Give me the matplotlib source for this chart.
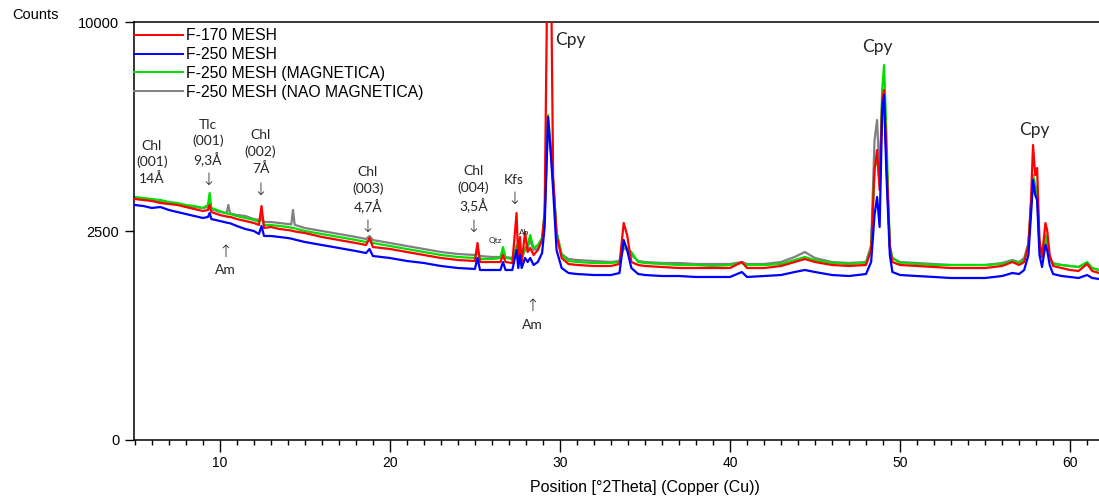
import numpy as np
import matplotlib
matplotlib.use("Agg")
from matplotlib import pyplot as plt

# difratogramas (2theta em graus, contagens)
two_theta = [5.0, 5.5, 6.0, 6.5, 7.0, 7.5, 8.0, 8.5, 9.0, 9.3, 9.4, 9.5, 10.0, 10.4, 10.5, 10.6,
             11.0, 11.5, 12.0, 12.3, 12.45, 12.6, 13.0, 13.5, 14.0, 14.2, 14.3, 14.4, 15.0, 16.0,
             17.0, 18.0, 18.6, 18.8, 19.0, 20.0, 21.0, 22.0, 23.0, 24.0, 25.0, 25.15, 25.3,
             26.0, 26.5, 26.65, 26.8, 27.2, 27.45, 27.55, 27.65, 27.75, 27.95, 28.1, 28.25,
             28.45, 28.7, 28.95, 29.1, 29.3, 29.45, 29.6, 29.8, 30.1, 30.5, 31.0, 32.0, 33.0,
             33.5, 33.75, 33.95, 34.2, 34.6, 35.0, 36.0, 37.0, 38.0, 39.0, 40.0, 40.7, 41.0,
             42.0, 43.0, 43.8, 44.4, 45.0, 46.0, 47.0, 48.0, 48.3, 48.5, 48.65, 48.8, 48.95,
             49.06, 49.2, 49.3, 49.4, 49.55, 50.0, 51.0, 52.0, 53.0, 54.0, 55.0, 56.0, 56.6,
             57.0, 57.3, 57.55, 57.7, 57.82, 57.95, 58.06, 58.2, 58.35, 58.55, 58.65, 58.8,
             59.0, 59.5, 60.0, 60.5, 61.0, 61.3, 61.7]

f170 = [3324, 3297, 3269, 3215, 3188, 3161, 3107, 3054, 3001, 3028, 3161, 2975, 2897, 2860, 2846, 2850,
        2795, 2745, 2695, 2646, 3134, 2572, 2597, 2548, 2524, 2510, 2500, 2490, 2452, 2359,
        2289, 2221, 2176, 2335, 2132, 2088, 2023, 1959, 1896, 1854, 1834, 2221, 1813,
        1813, 1813, 1959, 1813, 1793, 2949, 1813, 2359, 1813, 2476, 2023, 2110,
        1959, 2066, 2289, 2949, 16000, 15000, 3959, 2405, 1896, 1773, 1753, 1733, 1733,
        1773, 2695, 2405, 1813, 1753, 1733, 1713, 1693, 1693, 1693, 1693, 1813, 1693,
        1693, 1733, 1813, 1875, 1813, 1753, 1733, 1753, 2066, 4172, 4813, 3577, 6616,
        7011, 4584, 3161, 2132, 1813, 1753, 1733, 1713, 1693, 1693, 1693, 1733, 1813,
        1753, 1813, 2176, 3297, 4981, 4019, 4234, 2289, 1917, 2695, 2524, 1959,
        1733, 1693, 1654, 1635, 1773, 1635, 1596]

f250 = [3161, 3134, 3081, 3107, 3028, 2975, 2923, 2872, 2821, 2846, 2949, 2795, 2745, 2705, 2695, 2690,
        2621, 2548, 2500, 2429, 2621, 2382, 2382, 2359, 2335, 2320, 2312, 2300, 2244, 2176,
        2110, 2044, 2001, 2088, 1938, 1896, 1834, 1793, 1733, 1693, 1674, 1896, 1654,
        1654, 1654, 1813, 1654, 1654, 2066, 1693, 1959, 1693, 1896, 1813, 1896,
        1753, 1813, 2001, 2597, 5971, 4813, 3577, 2066, 1693, 1596, 1577, 1558, 1558,
        1596, 2289, 2066, 1693, 1577, 1558, 1539, 1539, 1521, 1521, 1521, 1615, 1521,
        1539, 1558, 1615, 1654, 1615, 1558, 1539, 1577, 1813, 2897, 3380, 2597, 6233,
        6812, 4019, 2897, 1959, 1615, 1558, 1539, 1521, 1502, 1502, 1502, 1539, 1596,
        1577, 1654, 1959, 2897, 3869, 3435, 3297, 1959, 1713, 2176, 2066, 1753,
        1577, 1539, 1521, 1502, 1558, 1502, 1484]

f250_mag = [3380, 3352, 3324, 3297, 3242, 3215, 3161, 3134, 3081, 3161, 3492, 3081, 3001, 2935, 2923, 2920,
            2872, 2821, 2770, 2720, 2821, 2646, 2646, 2621, 2597, 2580, 2572, 2565, 2500, 2429,
            2359, 2289, 2244, 2289, 2221, 2154, 2088, 2023, 1959, 1917, 1896, 2066, 1875,
            1875, 1896, 2132, 1896, 1875, 2176, 1896, 2066, 1896, 2110, 2176, 2405,
            2110, 2176, 2335, 2949, 6045, 4981, 3869, 2476, 1959, 1834, 1813, 1793, 1793,
            1813, 2176, 2110, 2023, 1813, 1793, 1773, 1753, 1753, 1733, 1753, 1793, 1753,
            1753, 1773, 1854, 1917, 1854, 1793, 1773, 1793, 2110, 4172, 4649, 3722, 7011,
            8048, 5394, 3435, 2176, 1896, 1793, 1773, 1753, 1753, 1753, 1753, 1773, 1834,
            1793, 1854, 2176, 3161, 4019, 3722, 3577, 2176, 1917, 2405, 2289, 1896,
            1773, 1753, 1733, 1713, 1813, 1693, 1654]

f250_nao_mag = [3352, 3324, 3297, 3242, 3215, 3188, 3134, 3107, 3081, 3107, 3297, 3054, 2975, 2950, 3161, 2940,
                2897, 2872, 2795, 2770, 2846, 2720, 2720, 2695, 2670, 2660, 3028, 2650, 2572, 2500,
                2429, 2359, 2312, 2382, 2289, 2221, 2154, 2088, 2023, 1980, 1959, 2023, 1938,
                1917, 1917, 2066, 1917, 1896, 2110, 1896, 2023, 1896, 2066, 2110, 2289,
                2066, 2110, 2289, 2897, 5679, 4813, 3810, 2476, 1980, 1875, 1854, 1834, 1813,
                1834, 2110, 2066, 1959, 1834, 1813, 1793, 1793, 1773, 1773, 1773, 1813, 1773,
                1773, 1813, 1917, 2023, 1896, 1813, 1793, 1813, 2176, 5151, 5861, 3869, 6423,
                6616, 4487, 3161, 2110, 1896, 1813, 1793, 1773, 1753, 1753, 1753, 1793, 1854,
                1813, 1896, 2221, 3028, 3869, 3577, 3435, 2110, 1917, 2289, 2176, 1896,
                1793, 1753, 1733, 1713, 1793, 1693, 1654]

series_labels = ["F-170 MESH", "F-250 MESH", "F-250 MESH (MAGNETICA)", "F-250 MESH (NAO MAGNETICA)"]

plt.rcParams['font.family'] = ['Liberation Sans', 'DejaVu Sans']

fig = plt.figure(figsize=(10.99, 4.97), dpi=100)
ax = fig.add_axes([0.1219, 0.1147, 0.8781, 0.8410])

ax.set_yscale('function', functions=(lambda v: np.sqrt(np.clip(v, 0, None)), lambda v: v ** 2))

# ordem de desenho: cinza, verde, vermelho, azul por cima
l_gray, = ax.plot(two_theta, f250_nao_mag, color='#808080', lw=1.6, zorder=1)
l_green, = ax.plot(two_theta, f250_mag, color='#00e000', lw=1.6, zorder=2)
l_red, = ax.plot(two_theta, f170, color='#ff0000', lw=1.6, zorder=3)
l_blue, = ax.plot(two_theta, f250, color='#0000ff', lw=1.6, zorder=4)

ax.set_xlim(4.95, 61.7)
ax.set_ylim(0, 10000)
ax.set_yticks([0, 2500, 10000])
ax.set_yticklabels(['0', '2500', '10000'])
ax.set_xticks([10, 20, 30, 40, 50, 60])
ax.set_xticks(np.arange(5, 62, 1), minor=True)
ax.tick_params(axis='x', which='major', direction='out', length=8.6, width=1, labelsize=10, pad=3)
ax.tick_params(axis='x', which='minor', direction='out', length=3.6, width=1)
ax.tick_params(axis='y', which='major', direction='out', length=6.5, width=1, labelsize=10.5, pad=4)
ax.tick_params(axis='y', which='minor', left=False)
for s in ['left', 'bottom', 'top']:
    ax.spines[s].set_linewidth(1.1)
ax.spines['right'].set_visible(False)

ax.set_xlabel('Position [°2Theta] (Copper (Cu))', fontsize=11.5)
ax.xaxis.set_label_coords(0.53, -0.095)
fig.text(0.011, 0.97, 'Counts', fontsize=10.5, ha='left', va='center')

leg = ax.legend([l_red, l_blue, l_green, l_gray], series_labels, loc='upper left',
                bbox_to_anchor=(0.0, 0.985), borderaxespad=0, frameon=False,
                handlelength=3.1, handletextpad=0.2, labelspacing=0.24, fontsize=11.3,
                borderpad=0)
for h in leg.get_lines():
    h.set_linewidth(1.4)

# anotacoes dos minerais
note_color = '#262626'
afont = ['Lato', 'DejaVu Sans']
tr = ax.get_xaxis_transform()
notes = [
    (6.0, 0.665, 'Chl\n(001)\n14Å', 10),
    (9.3, 0.7105, 'Tlc\n(001)\n9,3Å', 10),
    (12.4, 0.689, 'Chl\n(002)\n7Å', 10),
    (18.7, 0.598, 'Chl\n(003)\n4,7Å', 10),
    (24.9, 0.600, 'Chl\n(004)\n3,5Å', 10),
    (27.3, 0.622, 'Kfs', 10),
    (10.3, 0.407, 'Am', 10),
    (28.4, 0.275, 'Am', 10),
    (26.2, 0.478, 'Qtz', 6),
    (27.9, 0.4976, 'Ab', 6),
]
for x, y, s, fs in notes:
    ax.text(x, y, s, transform=tr, ha='center', va='center', fontsize=fs,
            family=afont, color=note_color, linespacing=1.35)

arrows = [
    (9.3, 0.622, '↓'),
    (12.4, 0.598, '↓'),
    (18.7, 0.5096, '↓'),
    (24.9, 0.5096, '↓'),
    (27.3, 0.5766, '↓'),
    (10.3, 0.45, '↑'),
    (28.4, 0.3206, '↑'),
]
for x, y, s in arrows:
    ax.text(x, y, s, transform=tr, ha='center', va='center', fontsize=12,
            family=['DejaVu Sans'], color=note_color, fontweight='light')

for x, y in [(30.6, 0.957), (48.65, 0.940), (57.9, 0.742)]:
    ax.text(x, y, 'Cpy', transform=tr, ha='center', va='center', fontsize=12.5,
            family=afont, color=note_color)

fig.savefig('out.png', dpi=100)
